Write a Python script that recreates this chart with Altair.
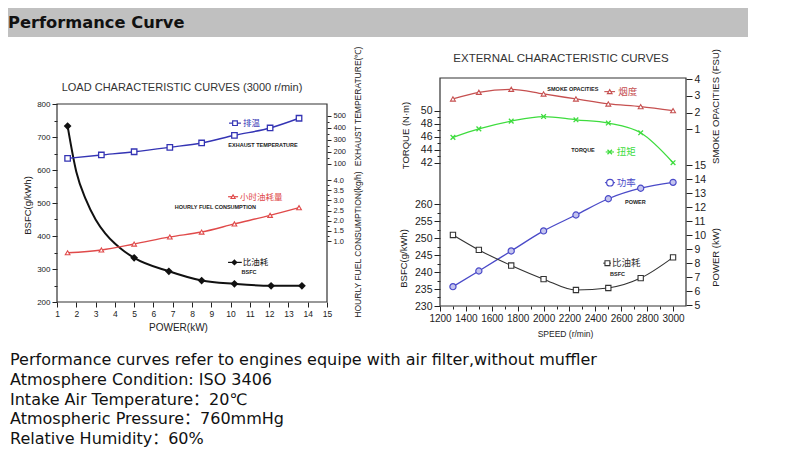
import altair as alt
import pandas as pd

W, H = 784, 441
FONT = "Liberation Sans"
CJK = "Noto Sans CJK SC"

# ---------------- texts ----------------
header_text = ["Performance Curve"]
panel_titles = ["LOAD CHARACTERISTIC CURVES (3000 r/min)", "EXTERNAL CHARACTERISTIC CURVES"]
notes = [
    "Performance curves refer to engines equipe with air filter,without muffler",
    "Atmosphere Condition: ISO 3406",
    "Intake Air Temperature：20℃",
    "Atmospheric Pressure：760mmHg",
    "Relative Humidity：60%",
]

# ---------------- left panel: load characteristic curves ----------------
load_power = [1.55, 3.3, 5.0, 6.85, 8.5, 10.2, 12.05, 13.55]
exhaust_temp = [143, 171, 198, 235, 271, 335, 396, 477]
hourly_fuel = [0.42, 0.56, 0.85, 1.20, 1.44, 1.84, 2.26, 2.64]
bsfc_mark_power = [1.55, 5.0, 6.8, 8.5, 10.2, 12.1, 13.7]
bsfc_mark_value = [733, 334, 293, 265, 255, 249, 249]
# BSFC curve
bsfc_line_power = [1.55, 2.0, 2.5, 3.0, 3.5, 4.0, 4.5, 5.0, 6.8, 8.5, 10.2, 12.1, 13.7]
bsfc_line_value = [733, 595, 510, 450, 408, 377, 353, 334, 293, 265, 255, 249, 249]

# ---------------- right panel: external characteristic curves ----------------
speed = [1300, 1500, 1750, 2000, 2250, 2500, 2750, 3000]
smoke = [2.82, 3.22, 3.40, 3.12, 2.82, 2.52, 2.36, 2.12]
torque = [45.9, 47.2, 48.4, 49.1, 48.6, 48.1, 46.6, 42.0]
power = [6.31, 7.43, 8.86, 10.29, 11.43, 12.59, 13.34, 13.76]
bsfc_r = [250.9, 246.5, 241.9, 237.9, 234.7, 235.3, 238.2, 244.3]

# ---------------- tick values ----------------
lx_ticks = [1 + 0.5 * i for i in range(29)]
lb_ticks = [200 + 50 * i for i in range(13)]
le_ticks = [100 + 50 * i for i in range(9)]
lf_ticks = [1 + 0.25 * i for i in range(13)]
rx_ticks = [1200 + 100 * i for i in range(19)]
rt_ticks = [42 + i for i in range(9)]
rb_ticks = [230 + 2.5 * i for i in range(13)]
rs_ticks = [1 + 0.5 * i for i in range(7)]
rp_ticks = [5 + 0.5 * i for i in range(21)]

# ---------------- annotation labels ----------------
left_legend_labels = ["排温", "小时油耗量", "比油耗"]
left_tag_labels = ["EXHAUST TEMPERATURE", "HOURLY FUEL CONSUMPTION", "BSFC"]
right_legend_labels = ["烟度", "扭矩", "功率", "比油耗"]
right_tag_labels = ["SMOKE OPACITIES", "TORQUE", "POWER", "BSFC"]

# annotation anchor positions, in the data units of the panel/series
left_legend_x0 = [9.92, 9.87, 9.87]
left_legend_x1 = [10.54, 10.39, 10.58]
left_legend_xm = [10.23, 10.13, 10.2]
left_legend_xt = [10.64, 10.49, 10.63]
left_legend_y = [742, 519, 320]
left_tag_x = [11.68, 9.21, 10.96]
left_tag_y = [676, 487, 291]

right_legend_x0 = [2469, 2480, 2474, 2461]
right_legend_x1 = [2552, 2544, 2552, 2521]
right_legend_xm = [2511, 2511, 2513, 2493]
right_legend_xt = [2577, 2565, 2565, 2528]
right_legend_y = [3.26, 43.65, 13.74, 242.6]
right_tag_x = [2226, 2305, 2709, 2571]
right_tag_y = [3.42, 43.95, 12.38, 239.4]

# ---------------- colours ----------------
BLUE_L, RED_L, BLACK = "#3434b4", "#e04a4a", "#111111"
RED_R, GREEN_R, BLUE_R, GREY_R = "#c65050", "#3edc3e", "#4a4ac8", "#333333"


def sc(domain, rng):
    return alt.Scale(domain=domain, range=rng, nice=False, zero=False)


# scales (pixel ranges place each panel on the page)
LX = ([1, 15], [49, 319])
LB = ([200, 800], [294, 96])
LE = ([100, 500], [155.5, 107.5])
LF = ([1, 4], [233, 172])
RX = ([1200, 3100], [432, 678])
RFR = ([0, 1], [298, 70])
RT = ([42, 50], [154.7, 102.7])
RB = ([230, 260], [298, 196])
RS = ([1, 4], [121.3, 71.3])
RP = ([5, 15], [297, 157])


def make_axis(orient, offset, values, major, title, tx, ty, lsize, tsize,
              fmt="d", major_len=5, minor_len=3):
    test = f"abs(datum.value / {major} - round(datum.value / {major})) < 1e-6"
    kw = dict(orient=orient, offset=offset, values=values, domain=False, grid=False,
              format=fmt,
              labelExpr=f"({test}) ? datum.label : ''",
              tickSize={"condition": {"test": test, "value": major_len}, "value": minor_len},
              tickColor="#222", tickWidth=1, labelColor="#222", labelFont=FONT,
              labelFontSize=lsize, labelPadding=2, labelOverlap=False, labelFlush=False,
              title=title, titleFont=FONT, titleFontSize=tsize, titleFontWeight="normal",
              titleColor="#222", titleX=tx, titleY=ty, titleBaseline="middle",
              titleAlign="center")
    if orient in ("left", "right"):
        kw["titleAngle"] = 270
    return alt.Axis(**kw)


ax_lx = make_axis("bottom", 294 - H, lx_ticks, 1, "POWER(kW)", 170, 25, 8.5, 10)
ax_lb = make_axis("left", -49, lb_ticks, 100, "BSFC(g/kWh)", -30, 197, 8, 9.5)
ax_le = make_axis("right", 319 - W, le_ticks, 100, "EXHAUST TEMPERATURE(℃)", 30, 98, 7.5, 8.5,
                  major_len=4, minor_len=2)
ax_lf = make_axis("right", 319 - W, lf_ticks, 0.5, "HOURLY FUEL CONSUMPTION(kg/h)", 30, 236,
                  7.5, 8.5, fmt=".1f", major_len=4, minor_len=2)
ax_rx = make_axis("bottom", 298 - H, rx_ticks, 200, "SPEED (r/min)", 557, 27, 10, 8.5)
ax_rt = make_axis("left", -432, rt_ticks, 2, "TORQUE (N·m)", -35, 127, 10.5, 9.5, major_len=6)
ax_rb = make_axis("left", -432, rb_ticks, 5, "BSFC(g/kWh)", -37, 250, 10.5, 9.5, major_len=6)
ax_rs = make_axis("right", 678 - W, rs_ticks, 1, "SMOKE OPACITIES (FSU)", 29, 98, 10.5, 9.5,
                  major_len=6)
ax_rp = make_axis("right", 678 - W, rp_ticks, 1, "POWER (kW)", 29, 249, 10.5, 9.5, major_len=6)


def X(field, s, axis=None):
    return alt.X(field, type="quantitative", scale=sc(*s), axis=axis)


def Y(field, s, axis=None):
    return alt.Y(field, type="quantitative", scale=sc(*s), axis=axis)


layers = []

# header band and texts
one = pd.DataFrame({"t": header_text})
layers.append(alt.Chart(one).mark_rect(color="#c0c0c0").encode(
    x=alt.value(0), x2=alt.value(740), y=alt.value(0), y2=alt.value(29)))
layers.append(alt.Chart(one).mark_text(
    font="DejaVu Sans", fontSize=16.3, fontWeight="bold", color="#111",
    align="left", baseline="middle").encode(x=alt.value(0), y=alt.value(14.5), text="t:N"))

titles_df = pd.DataFrame({"t": panel_titles})
layers.append(alt.Chart(titles_df.iloc[[0]]).mark_text(
    font=FONT, fontSize=11, color="#333", align="center", baseline="middle").encode(
    x=alt.value(174), y=alt.value(80), text="t:N"))
layers.append(alt.Chart(titles_df.iloc[[1]]).mark_text(
    font=FONT, fontSize=11.5, color="#333", align="center", baseline="middle").encode(
    x=alt.value(553), y=alt.value(51), text="t:N"))

# ---- left panel ----
df_bl = pd.DataFrame({"p": bsfc_line_power, "v": bsfc_line_value})
df_bm = pd.DataFrame({"p": bsfc_mark_power, "v": bsfc_mark_value})
df_ld = pd.DataFrame({"p": load_power, "t": exhaust_temp, "f": hourly_fuel})
frame_l = pd.DataFrame({"x": [LX[0][0]], "x2": [LX[0][1]], "y": [LB[0][0]], "y2": [LB[0][1]]})

layers.append(alt.Chart(frame_l).mark_rect(fillOpacity=0, stroke="#333", strokeWidth=1.2).encode(
    x=X("x", LX), x2="x2:Q", y=Y("y", LB), y2="y2:Q"))
layers.append(alt.Chart(df_bl).mark_line(color=BLACK, strokeWidth=2, interpolate="monotone").encode(
    x=X("p", LX, ax_lx), y=Y("v", LB, ax_lb)))
layers.append(alt.Chart(df_bm).mark_point(shape="diamond", filled=True, color=BLACK, size=60, opacity=1).encode(
    x=X("p", LX), y=Y("v", LB)))
layers.append(alt.Chart(df_ld).mark_line(color=BLUE_L, strokeWidth=1.4, interpolate="monotone").encode(
    x=X("p", LX), y=Y("t", LE, ax_le)))
layers.append(alt.Chart(df_ld).mark_point(shape="square", filled=True, fill="white", stroke=BLUE_L,
                                          strokeWidth=1.3, size=30, opacity=1).encode(
    x=X("p", LX), y=Y("t", LE)))
layers.append(alt.Chart(df_ld).mark_line(color=RED_L, strokeWidth=1.4, interpolate="monotone").encode(
    x=X("p", LX), y=Y("f", LF, ax_lf)))
layers.append(alt.Chart(df_ld).mark_point(shape="triangle-up", filled=True, fill="white", stroke=RED_L,
                                          strokeWidth=1.1, size=22, opacity=1).encode(
    x=X("p", LX), y=Y("f", LF)))

left_styles = [
    (BLUE_L, dict(shape="square", filled=True, fill="white", stroke=BLUE_L, strokeWidth=1.2, size=22)),
    (RED_L, dict(shape="triangle-up", filled=True, fill="white", stroke=RED_L, strokeWidth=1.1, size=18)),
    (BLACK, dict(shape="diamond", filled=True, color=BLACK, size=40)),
]
for i, (col, pstyle) in enumerate(left_styles):
    d = pd.DataFrame({"x0": [left_legend_x0[i]], "x1": [left_legend_x1[i]], "xm": [left_legend_xm[i]],
                      "xt": [left_legend_xt[i]], "y": [left_legend_y[i]], "t": [left_legend_labels[i]]})
    layers.append(alt.Chart(d).mark_rule(color=col, strokeWidth=1.2).encode(
        x=X("x0", LX), x2="x1:Q", y=Y("y", LB)))
    layers.append(alt.Chart(d).mark_point(opacity=1, **pstyle).encode(x=X("xm", LX), y=Y("y", LB)))
    layers.append(alt.Chart(d).mark_text(font=CJK, fontSize=8.5, color=col, align="left",
                                         baseline="middle").encode(
        x=X("xt", LX), y=Y("y", LB), text="t:N"))

df_lt = pd.DataFrame({"x": left_tag_x, "y": left_tag_y, "t": left_tag_labels})
layers.append(alt.Chart(df_lt).mark_text(font=FONT, fontSize=5.5, fontWeight="bold", color="#222",
                                         align="center", baseline="middle").encode(
    x=X("x", LX), y=Y("y", LB), text="t:N"))

# ---- right panel ----
df_r = pd.DataFrame({"s": speed, "sm": smoke, "tq": torque, "pw": power, "b": bsfc_r})
frame_r = pd.DataFrame({"x": [RX[0][0]], "x2": [RX[0][1]], "y": [RFR[0][0]], "y2": [RFR[0][1]]})
layers.append(alt.Chart(frame_r).mark_rect(fillOpacity=0, stroke="#333", strokeWidth=1.2).encode(
    x=X("x", RX), x2="x2:Q", y=Y("y", RFR), y2="y2:Q"))

layers.append(alt.Chart(df_r).mark_line(color=RED_R, strokeWidth=1.3, interpolate="monotone").encode(
    x=X("s", RX, ax_rx), y=Y("sm", RS, ax_rs)))
layers.append(alt.Chart(df_r).mark_point(shape="triangle-up", filled=True, fill="white", stroke=RED_R,
                                         strokeWidth=1.1, size=24, opacity=1).encode(
    x=X("s", RX), y=Y("sm", RS)))
layers.append(alt.Chart(df_r).mark_line(color=GREEN_R, strokeWidth=1.3, interpolate="monotone").encode(
    x=X("s", RX), y=Y("tq", RT, ax_rt)))
layers.append(alt.Chart(df_r).mark_point(shape="M-1,-1L1,1M-1,1L1,-1", filled=False, stroke=GREEN_R,
                                         strokeWidth=1.3, size=22, opacity=1).encode(
    x=X("s", RX), y=Y("tq", RT)))
layers.append(alt.Chart(df_r).mark_line(color=BLUE_R, strokeWidth=1.3, interpolate="monotone").encode(
    x=X("s", RX), y=Y("pw", RP, ax_rp)))
layers.append(alt.Chart(df_r).mark_point(shape="circle", filled=True, fill="#c4c4ee", stroke=BLUE_R,
                                         strokeWidth=1.2, size=38, opacity=1).encode(
    x=X("s", RX), y=Y("pw", RP)))
layers.append(alt.Chart(df_r).mark_line(color=GREY_R, strokeWidth=1.1, interpolate="monotone").encode(
    x=X("s", RX), y=Y("b", RB, ax_rb)))
layers.append(alt.Chart(df_r).mark_point(shape="square", filled=True, fill="white", stroke=GREY_R,
                                         strokeWidth=1.1, size=28, opacity=1).encode(
    x=X("s", RX), y=Y("b", RB)))

right_styles = [
    (RED_R, RS, dict(shape="triangle-up", filled=True, fill="white", stroke=RED_R, strokeWidth=1.1, size=22)),
    (GREEN_R, RT, dict(shape="M-1,-1L1,1M-1,1L1,-1", filled=False, stroke=GREEN_R, strokeWidth=1.3, size=20)),
    (BLUE_R, RP, dict(shape="circle", filled=True, fill="white", stroke=BLUE_R, strokeWidth=1.2, size=45)),
    (GREY_R, RB, dict(shape="square", filled=True, fill="white", stroke=GREY_R, strokeWidth=1.1, size=24)),
]
for i, (col, ys, pstyle) in enumerate(right_styles):
    d = pd.DataFrame({"x0": [right_legend_x0[i]], "x1": [right_legend_x1[i]], "xm": [right_legend_xm[i]],
                      "xt": [right_legend_xt[i]], "y": [right_legend_y[i]], "t": [right_legend_labels[i]],
                      "tx": [right_tag_x[i]], "ty": [right_tag_y[i]], "tag": [right_tag_labels[i]]})
    layers.append(alt.Chart(d).mark_rule(color=col, strokeWidth=1.1).encode(
        x=X("x0", RX), x2="x1:Q", y=Y("y", ys)))
    layers.append(alt.Chart(d).mark_point(opacity=1, **pstyle).encode(x=X("xm", RX), y=Y("y", ys)))
    layers.append(alt.Chart(d).mark_text(font=CJK, fontSize=9.5, color=col, align="left",
                                         baseline="middle").encode(
        x=X("xt", RX), y=Y("y", ys), text="t:N"))
    layers.append(alt.Chart(d).mark_text(font=FONT, fontSize=5.5, fontWeight="bold", color="#222",
                                         align="center", baseline="middle").encode(
        x=X("tx", RX), y=Y("ty", ys), text="tag:N"))

# ---- notes ----
df_n = pd.DataFrame({"t": notes, "i": list(range(len(notes)))})
layers.append(alt.Chart(df_n).mark_text(font="DejaVu Sans, Noto Sans CJK SC", fontSize=16,
                                        color="#111", align="left", baseline="middle").encode(
    x=alt.value(2),
    y=alt.Y("i:O", scale=alt.Scale(type="point", range=[352, 431], padding=0), axis=None),
    text="t:N"))

chart = alt.layer(*layers).resolve_scale(x="independent", y="independent").properties(
    width=W, height=H, autosize=alt.AutoSizeParams(type="none"), padding=0,
    background="white").configure_view(stroke=None)

chart.save("out.html", embed_options={"renderer": "svg", "actions": False})
